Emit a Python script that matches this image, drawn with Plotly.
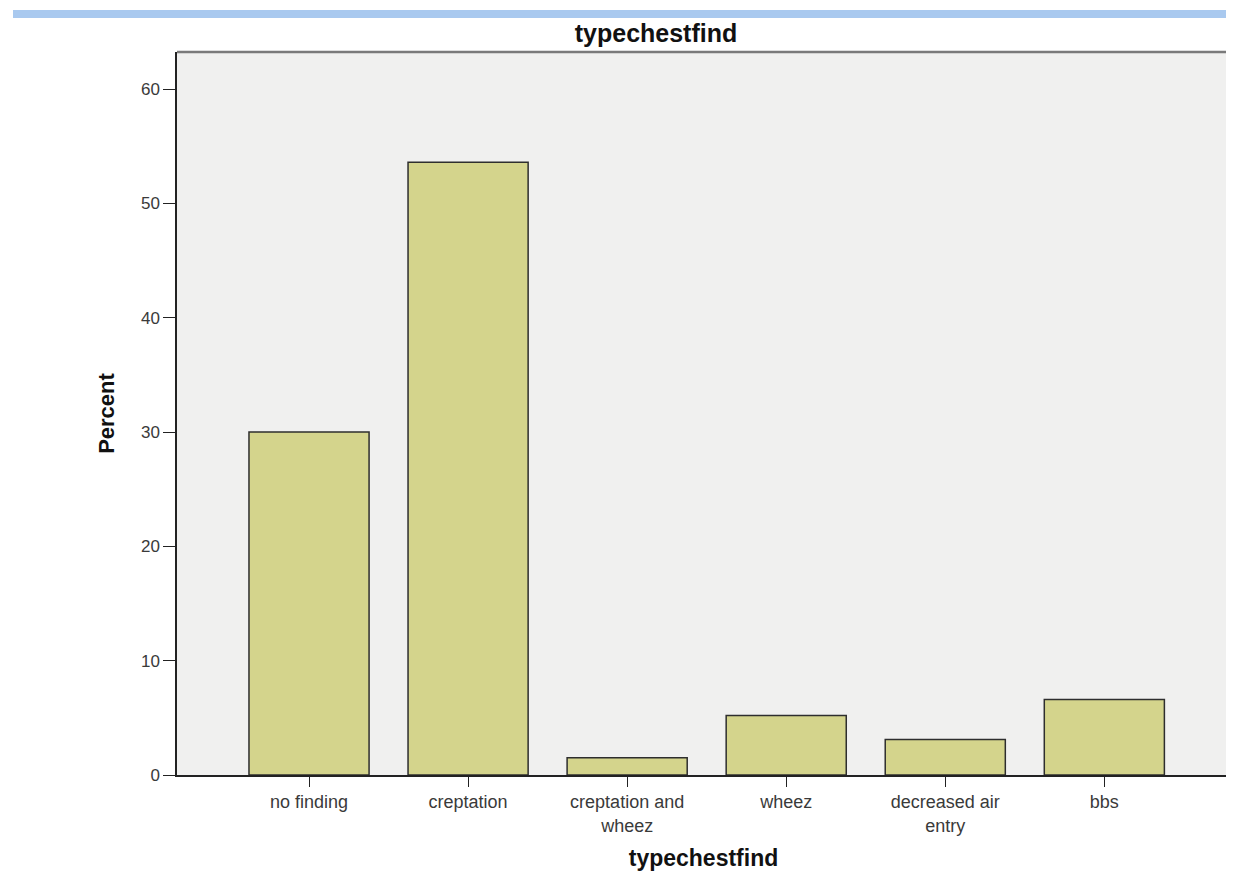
import plotly.graph_objects as go

categories = ["no finding", "creptation", "creptation and<br>wheez", "wheez", "decreased air<br>entry", "bbs"]
percent = [30.0, 53.6, 1.5, 5.2, 3.1, 6.6]
y_ticks = [0, 10, 20, 30, 40, 50, 60]

OFF = 8  # page body margin
W, H = 1234, 881
# target page positions of plot area
PL, PR, PT, PB = 177, 1230, 52, 775
L = PL - OFF
T = PT - OFF
R = W - (PR - OFF)
B = H - (PB - OFF)
ph = H - T - B
pw = W - L - R

def py(p):
    return ((PB - OFF) - (p - OFF)) / ph

def px(p):
    return (p - PL) / pw

fig = go.Figure()
fig.add_trace(go.Bar(
    x=list(range(len(categories))),
    y=percent,
    width=0.755,
    marker=dict(color="#d4d48c", line=dict(color="#2e2e2e", width=1.5)),
    hoverinfo="y",
))

fig.update_layout(
    width=W, height=H,
    margin=dict(l=L, r=R, t=T, b=B, autoexpand=False),
    paper_bgcolor="white",
    plot_bgcolor="#f0f0ef",
    showlegend=False,
    font=dict(family="Liberation Sans, Arial, sans-serif", color="#333333"),
    title=dict(text="<b>typechestfind</b>", x=(656 - OFF) / W, xref="container", xanchor="center",
               y=1 - (33 - OFF) / H, yanchor="middle", font=dict(size=25, color="#111111")),
    xaxis=dict(
        range=[-0.83, 5.79],
        tickmode="array",
        tickvals=list(range(len(categories))),
        ticktext=categories,
        ticks="outside", ticklen=10, tickcolor="#222222", tickwidth=1.3,
        showline=True, linecolor="#222222", linewidth=1.5,
        showgrid=False, zeroline=False,
        tickfont=dict(size=18, color="#3a3a3a"),
        title=dict(text="<b>typechestfind</b>", font=dict(size=23, color="#111111"), standoff=15),
    ),
    yaxis=dict(
        range=[0, 63.25],
        tickmode="array", tickvals=y_ticks,
        ticks="outside", ticklen=12, tickcolor="#222222", tickwidth=1.3,
        showline=True, linecolor="#222222", linewidth=1.5,
        showgrid=False, zeroline=False,
        tickfont=dict(size=17, color="#3a3a3a"),
        title=dict(text="<b>Percent</b>", font=dict(size=22, color="#111111"), standoff=20),
    ),
    shapes=[
        dict(type="rect", xref="paper", yref="paper",
             x0=px(13), x1=px(W + 10), y0=py(18), y1=py(10),
             fillcolor="#a9c9ef", line=dict(width=0), layer="above"),
        dict(type="line", xref="paper", yref="paper",
             x0=0, x1=px(W + 10), y0=1, y1=1,
             line=dict(color="#7a7a7a", width=2.5), layer="above"),
        dict(type="line", xref="paper", yref="paper",
             x0=1, x1=1, y0=0, y1=1,
             line=dict(color="#d8d8d8", width=1.5), layer="above"),
    ],
)

fig.write_html("out.html")
